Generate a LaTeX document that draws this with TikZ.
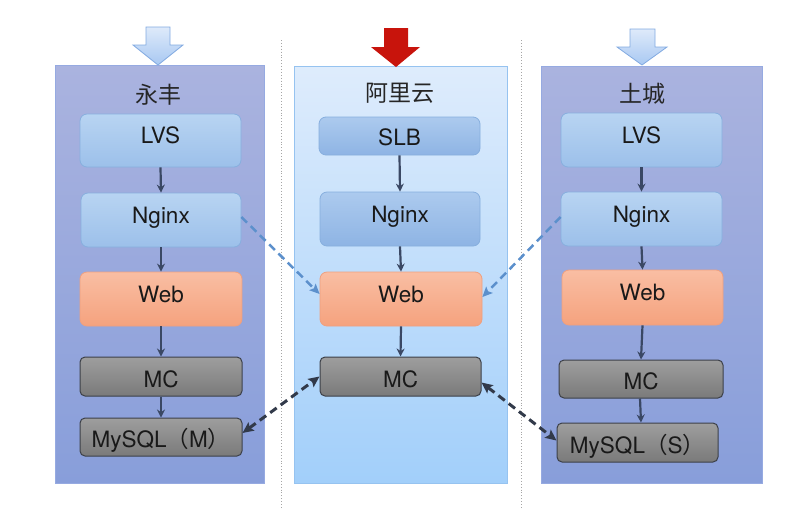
\documentclass[tikz,border=0pt]{standalone}
\usepackage{fontspec}
\setmainfont{TeX Gyre Heros}
\newfontfamily\cjk{Noto Sans CJK SC}
\usetikzlibrary{arrows.meta,calc}
\definecolor{panelTopA}{RGB}{170,179,223}
\definecolor{panelBotA}{RGB}{136,158,218}
\definecolor{panelEdgeA}{RGB}{150,170,225}
\definecolor{panelTopM}{RGB}{222,236,252}
\definecolor{panelBotM}{RGB}{162,207,250}
\definecolor{panelEdgeM}{RGB}{150,195,240}
\definecolor{blueTop}{RGB}{184,212,242}
\definecolor{blueBot}{RGB}{156,192,234}
\definecolor{blueEdge}{RGB}{135,175,222}
\definecolor{sblueTop}{RGB}{172,202,238}
\definecolor{sblueBot}{RGB}{142,180,228}
\definecolor{webTop}{RGB}{249,190,163}
\definecolor{webBot}{RGB}{245,162,126}
\definecolor{webEdge}{RGB}{238,160,128}
\definecolor{mcTop}{RGB}{158,158,158}
\definecolor{mcBot}{RGB}{122,122,122}
\definecolor{mcEdge}{RGB}{60,64,72}
\definecolor{flowC}{RGB}{58,72,100}
\definecolor{dashBlue}{RGB}{92,144,204}
\definecolor{dashDark}{RGB}{50,58,74}
\definecolor{arrTop}{RGB}{222,234,250}
\definecolor{arrBot}{RGB}{168,200,242}
\definecolor{arrEdge}{RGB}{130,170,225}
\definecolor{redArr}{RGB}{200,20,12}
\tikzset{
  panel/.style={draw=#1, line width=0.8pt},
  box/.style={rounded corners=7pt, line width=0.8pt, inner sep=0pt, font=\fontsize{22.5}{25}\selectfont, text=black!90},
  raised/.style={text height=16pt, text depth=10pt},
  lowered/.style={text height=21pt, text depth=0pt},
  bluebox/.style={box, raised, draw=blueEdge, top color=blueTop, bottom color=blueBot},
  sbluebox/.style={box, raised, draw=blueEdge, top color=sblueTop, bottom color=sblueBot},
  webbox/.style={box, raised, draw=webEdge, top color=webTop, bottom color=webBot},
  mcbox/.style={box, lowered, rounded corners=5pt, line width=1pt, draw=mcEdge, top color=mcTop, bottom color=mcBot},
  title/.style={font=\cjk\fontsize{23}{26}\selectfont, text=black!85},
  flow/.style={draw=flowC, line width=2.2pt, -{Stealth[length=8pt,width=8pt]}},
  bluedash/.style={draw=dashBlue, line width=2.5pt, dash pattern=on 8pt off 5pt, -{Stealth[length=10pt,width=9pt,inset=2pt]}},
  darkdash/.style={draw=dashDark, line width=3pt, dash pattern=on 8pt off 5pt, {Stealth[length=11pt,width=10pt,inset=2pt]}-{Stealth[length=11pt,width=10pt,inset=2pt]}},
  sep/.style={draw=gray!70, line width=0.9pt, dotted}
}
\begin{document}
\begin{tikzpicture}[x=1pt,y=-1pt]
\useasboundingbox (0,0) rectangle (800,507);
% separators
\draw[sep] (281,40) -- (281,507);
\draw[sep] (521,40) -- (521,507);
% panels
\draw[panel=panelEdgeA, top color=panelTopA, bottom color=panelBotA] (55,65) rectangle (264,483);
\draw[panel=panelEdgeM, top color=panelTopM, bottom color=panelBotM] (294,66) rectangle (507,483);
\draw[panel=panelEdgeA, top color=panelTopA, bottom color=panelBotA] (541,66) rectangle (762,483);
% top arrows
\draw[draw=arrEdge, line width=0.8pt, top color=arrTop, bottom color=arrBot]
  (146,27) -- (170,27) -- (170,45) -- (183,45) -- (158,65) -- (133,45) -- (146,45) -- cycle;
\fill[redArr] (384,28) -- (408,28) -- (408,47) -- (420,47) -- (396,67) -- (371,47) -- (384,47) -- cycle;
\draw[draw=arrEdge, line width=0.8pt, top color=arrTop, bottom color=arrBot]
  (630,29) -- (655,29) -- (655,47) -- (667,47) -- (642,65) -- (617,47) -- (630,47) -- cycle;
% titles
\node[title] (tL) at (158,94.5) {永丰};
\node[title] (tM) at (400,93) {阿里云};
\node[title] (tR) at (642,93.5) {土城};
% left column
\node[bluebox, minimum width=161pt, minimum height=53pt] (lvsL) at (160.5,140.5) {LVS};
\node[bluebox, minimum width=160pt, minimum height=54pt] (ngL) at (161,220) {Nginx};
\node[webbox, minimum width=162pt, minimum height=54pt] (webL) at (161,299) {Web};
\node[mcbox, minimum width=162pt, minimum height=39pt] (mcL) at (161,376.5) {MC};
\node[mcbox, minimum width=162pt, minimum height=38pt] (myL) at (161,437) {MySQL{\cjk（}M{\cjk）}};
% middle column
\node[sbluebox, lowered, text height=19pt, minimum width=161pt, minimum height=38pt] (slb) at (399.5,136) {SLB};
\node[sbluebox, minimum width=160pt, minimum height=54pt] (ngM) at (400,219) {Nginx};
\node[webbox, minimum width=162pt, minimum height=54pt] (webM) at (401,299) {Web};
\node[mcbox, minimum width=161pt, minimum height=39pt] (mcM) at (400.5,376.5) {MC};
% right column
\node[bluebox, minimum width=161pt, minimum height=54pt] (lvsR) at (641.5,140) {LVS};
\node[bluebox, minimum width=161pt, minimum height=54pt] (ngR) at (641.5,219) {Nginx};
\node[webbox, minimum width=161pt, minimum height=55pt] (webR) at (642.5,297.5) {Web};
\node[mcbox, minimum width=164pt, minimum height=38pt] (mcR) at (641,379) {MC};
\node[mcbox, minimum width=161pt, minimum height=39pt] (myR) at (637.5,442.5) {MySQL{\cjk（}S{\cjk）}};
% vertical flows
\draw[flow] (lvsL.south) -- (ngL.north);
\draw[flow] (ngL.south) -- (webL.north);
\draw[flow] (webL.south) -- (mcL.north);
\draw[flow] (mcL.south) -- (myL.north);
\draw[flow] (slb.south) -- (ngM.north);
\draw[flow] (ngM.south) -- (webM.north);
\draw[flow] (webM.south) -- (mcM.north);
\draw[flow] (lvsR.south) -- (ngR.north);
\draw[flow] (ngR.south) -- (webR.north);
\draw[flow] (webR.south) -- (mcR.north);
\draw[flow] ($(mcR.south)+(-1,0)$) -- ($(myR.north)+(3.5,0)$);
% cross links
\draw[bluedash] ($(ngL.east)+(0,-3)$) -- ($(webM.west)+(0,-5)$);
\draw[bluedash] ($(ngR.west)+(0,-2)$) -- ($(webM.east)+(0,-2)$);
\draw[darkdash] ($(myL.east)+(0,-4)$) -- (mcM.west);
\draw[darkdash] ($(mcM.east)+(0,6)$) -- ($(myR.west)+(0,-2)$);
\end{tikzpicture}
\end{document}
